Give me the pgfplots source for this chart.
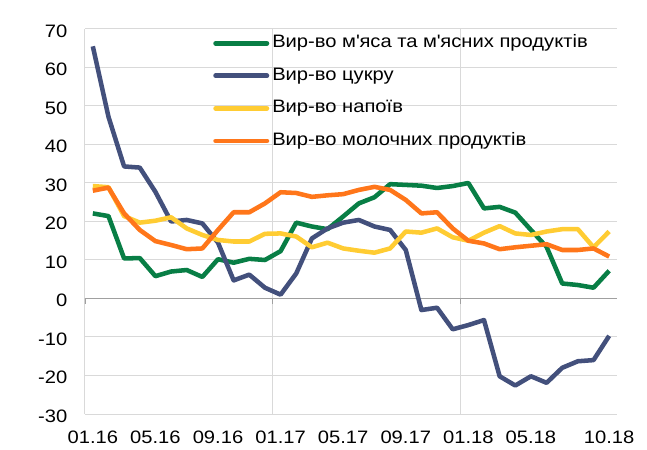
\documentclass[border=0pt]{standalone}
\usepackage{fontspec}
\setmainfont{Liberation Sans}[FakeStretch=1.12]
\usepackage{pgfplots}
\pgfplotsset{compat=1.18}
\usepackage{pgfplotstable}
\definecolor{cgreen}{RGB}{8,126,69}
\definecolor{cblue}{RGB}{67,80,124}
\definecolor{cyellow}{RGB}{255,204,51}
\definecolor{corange}{RGB}{255,118,26}
\definecolor{gridgray}{RGB}{217,217,217}
\definecolor{axisgray}{RGB}{160,160,160}
\pgfplotstableread{
i meat sugar drinks dairy
0 22.1 65.5 29.2 28.0
1 21.4 47.2 28.9 28.8
2 10.4 34.3 21.4 22.1
3 10.5 34.0 19.7 17.8
4 5.8 27.7 20.2 14.9
5 7.0 20.0 21.1 13.9
6 7.4 20.4 18.2 12.8
7 5.6 19.5 16.5 13.0
8 10.2 14.5 15.2 17.8
9 9.3 4.7 14.8 22.4
10 10.3 6.2 14.8 22.4
11 10.0 2.8 16.8 24.7
12 12.3 1.0 16.9 27.6
13 19.7 6.5 16.1 27.4
14 18.7 15.6 13.3 26.4
15 18.0 18.2 14.5 26.8
16 21.3 19.7 13.0 27.1
17 24.7 20.4 12.4 28.2
18 26.3 18.7 11.9 29.0
19 29.7 17.8 13.0 28.2
20 29.5 12.6 17.4 25.6
21 29.3 -3.0 17.1 22.1
22 28.7 -2.4 18.2 22.4
23 29.2 -8.0 15.9 18.2
24 30.0 -6.9 15.0 15.0
25 23.4 -5.6 17.1 14.3
26 23.8 -20.2 18.8 12.8
27 22.3 -22.6 16.9 13.3
28 17.8 -20.2 16.5 13.7
29 13.4 -21.9 17.4 14.1
30 3.9 -18.0 18.0 12.6
31 3.5 -16.3 18.0 12.6
32 2.8 -16.0 13.3 13.0
33 7.2 -9.7 17.4 10.9
}\datatable
\begin{document}
\begin{tikzpicture}
\useasboundingbox (-63.75pt,-27pt) rectangle (421.5pt,310.5pt);
\begin{axis}[
  at={(0,0)}, anchor=south west,
  scale only axis, width=399pt, height=288.75pt,
  xmin=-0.5, xmax=33.5, ymin=-30, ymax=70,
  xtick={0,4,8,12,16,20,24,28,33},
  xticklabels={01.16,05.16,09.16,01.17,05.17,09.17,01.18,05.18,10.18},
  ytick={-30,-20,-10,0,10,20,30,40,50,60,70},
  yticklabels={-30,-20,-10,0,10,20,30,40,50,60,70},
  axis line style={draw=none},
  major tick length=0pt,
  ymajorgrids,
  major grid style={draw=gridgray, line width=0.75pt},
  extra x ticks={-0.5,11.5,23.5},
  extra x tick labels={},
  extra x tick style={grid=major},
  tick label style={font=\fontsize{13.5}{15}\selectfont, text=black},
  xticklabel style={yshift=-8.9pt},
  yticklabel style={xshift=-9.75pt, yshift=-1.5pt},
  legend style={draw=none, fill=none, at={(0.2406,0.986)}, anchor=north west,
    font=\fontsize{13.5}{15}\selectfont, inner sep=0pt, row sep=11.4pt,
    nodes={inner sep=0pt, text height=9.7pt, text depth=3.3pt},
    /tikz/every odd column/.append style={column sep=2.25pt}},
  legend cell align=left,
  legend image code/.code={\draw[#1, line width=3.6pt, line cap=round] (1.8pt,0pt) -- (40.2pt,0pt);},
  every axis plot/.append style={line width=3.4pt, line join=round, no markers},
]
\draw[axisgray, line width=0.9pt] (axis cs:-0.5,0) -- (axis cs:33.5,0);
\pgfplotsinvokeforeach{-0.5,11.5,23.5}{\draw[axisgray, line width=0.9pt] (axis cs:#1,0) -- ([yshift=-4pt]axis cs:#1,0);}
\addplot[cgreen] table[x=i,y=meat]{\datatable};
\addlegendentry{Вир-во м\textquotesingle яса та м\textquotesingle ясних продуктів}
\addplot[cblue] table[x=i,y=sugar]{\datatable};
\addlegendentry{Вир-во цукру}
\addplot[cyellow] table[x=i,y=drinks]{\datatable};
\addlegendentry{Вир-во напоїв}
\addplot[corange] table[x=i,y=dairy]{\datatable};
\addlegendentry{Вир-во молочних продуктів}
\end{axis}
\end{tikzpicture}
\end{document}
